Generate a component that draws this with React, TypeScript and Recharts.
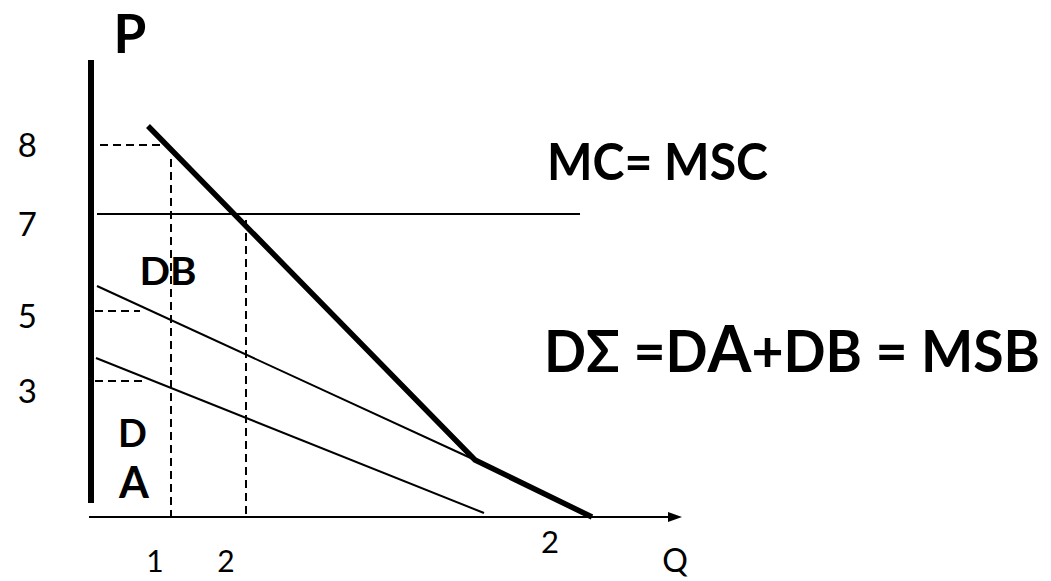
import React from 'react';
import { LineChart, Line, XAxis, YAxis, ReferenceDot } from 'recharts';

const font = "Lato, 'Open Sans', 'DejaVu Sans', sans-serif";

// diagram units: 1 unit ~ 10px of the original sketch, origin at the axes corner
const dSigma = [{ q: 5.8, p: 39.1 }, { q: 38.5, p: 5.7 }, { q: 50.2, p: 0 }];
const dB = [{ q: 0.7, p: 23.1 }, { q: 38.5, p: 5.7 }];
const dA = [{ q: 0.6, p: 15.9 }, { q: 39.4, p: 0.4 }];
const mc = [{ q: 0.7, p: 30.3 }, { q: 49.0, p: 30.3 }];
const pAxis = [{ q: 0.1, p: 45.7 }, { q: 0.1, p: 1.4 }];
const qAxis = [{ q: -0.1, p: 0 }, { q: 58.0, p: 0 }];

// dashed guide lines
const guide8h = [{ q: 1.0, p: 37.2 }, { q: 7.7, p: 37.2 }];
const guide1v = [{ q: 8.1, p: 35.8 }, { q: 8.1, p: 0 }];
const guide2v = [{ q: 15.6, p: 29.7 }, { q: 15.6, p: 0 }];
const guide5h = [{ q: 0.5, p: 20.6 }, { q: 5.0, p: 20.6 }];
const guide3h = [{ q: 0.5, p: 13.6 }, { q: 5.7, p: 13.6 }];
const guides = [guide8h, guide1v, guide2v, guide5h, guide3h];

const yTicks = [37.3, 29.4, 20.2, 12.7];
const yTickLabels = ['8', '7', '5', '3'];
const xTicks = [6.5, 13.6];
const xTickLabels = ['1', '2'];

const YTick = (props: any) => (
  <text x={props.x} y={props.y} textAnchor="end" dominantBaseline="central"
    fontFamily={font} fontSize={33} fill="#000">
    {yTickLabels[yTicks.indexOf(props.payload.value)]}
  </text>
);

const XTick = (props: any) => (
  <text x={props.x} y={props.y} textAnchor="middle"
    fontFamily={font} fontSize={30} fill="#000">
    {xTickLabels[xTicks.indexOf(props.payload.value)]}
  </text>
);

const label = (text: React.ReactNode, size: number, opts: any = {}) => (p: any) => (
  <text x={p.cx} y={p.cy} fontFamily={font} fontSize={size} fill="#000"
    textAnchor={opts.anchor || 'middle'} fontWeight={opts.weight || 700}
    {...(opts.length ? { textLength: opts.length, lengthAdjust: 'spacingAndGlyphs' } : {})}>
    {text}
  </text>
);

const arrowHead = (p: any) => (
  <polygon points={`${p.cx},${p.cy} ${p.cx - 14},${p.cy - 5} ${p.cx - 14},${p.cy + 5}`} fill="#000" />
);

export default function App() {
  const thin = { stroke: '#000', strokeWidth: 2, dot: false, activeDot: false, isAnimationActive: false, type: 'linear' as const };
  return (
    <div style={{ position: 'absolute', left: 0, top: 0, background: '#fff' }}>
      <LineChart width={1051} height={581} margin={{ top: 37, right: 361, bottom: 0, left: 0 }}>
        <XAxis type="number" dataKey="q" domain={[-2, 60]} ticks={xTicks} interval={0}
          axisLine={false} tickLine={false} tickSize={0} tickMargin={35} height={44} tick={<XTick />} />
        <YAxis type="number" dataKey="p" domain={[-2, 48]} ticks={yTicks} interval={0}
          axisLine={false} tickLine={false} tickSize={0} tickMargin={33} width={70} tick={<YTick />} />

        <Line data={pAxis} dataKey="p" {...thin} strokeWidth={6} />
        <Line data={qAxis} dataKey="p" {...thin} />
        {guides.map((g, i) => (
          <Line key={i} data={g} dataKey="p" {...thin} strokeDasharray="8 5" />
        ))}
        <Line data={mc} dataKey="p" {...thin} />
        <Line data={dB} dataKey="p" {...thin} />
        <Line data={dA} dataKey="p" {...thin} />
        <Line data={dSigma} dataKey="p" {...thin} strokeWidth={5.5} />

        <ReferenceDot x={59.2} y={0} r={0} ifOverflow="visible" shape={arrowHead} />

        <ReferenceDot x={4.0} y={46.4} r={0} ifOverflow="visible" shape={label('P', 53)} />
        <ReferenceDot x={58.5} y={-5.5} r={0} ifOverflow="visible" shape={label('Q', 32, { weight: 400 })} />
        <ReferenceDot x={46.0} y={-3.6} r={0} ifOverflow="visible" shape={label('2', 31, { weight: 400 })} />
        <ReferenceDot x={7.8} y={23.2} r={0} ifOverflow="visible" shape={label('DB', 39, { length: 57 })} />
        <ReferenceDot x={4.25} y={7.0} r={0} ifOverflow="visible" shape={label('D', 38)} />
        <ReferenceDot x={4.4} y={1.9} r={0} ifOverflow="visible" shape={label('A', 43)} />
        <ReferenceDot x={45.7} y={33.7} r={0} ifOverflow="visible"
          shape={label('MC= MSC', 52, { anchor: 'start', length: 221 })} />
        <ReferenceDot x={45.4} y={14.5} r={0} ifOverflow="visible"
          shape={label(<>DΣ =D<tspan fontSize={65}>A</tspan>+DB = MSB</>, 57, { anchor: 'start', length: 496 })} />
      </LineChart>
    </div>
  );
}
